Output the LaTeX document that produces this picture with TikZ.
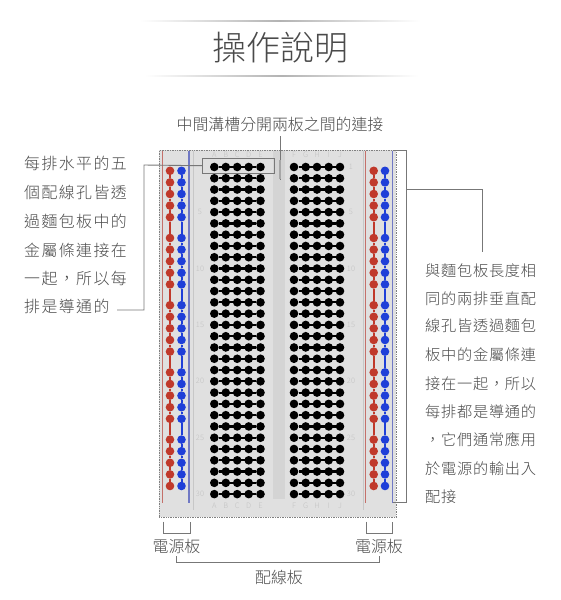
\documentclass[tikz,border=0pt]{standalone}
\usepackage{fontspec}
\setmainfont{Noto Sans CJK TC}[UprightFont=* Light]
\newfontfamily\labelfont{Noto Sans CJK TC}[UprightFont=* Light,LetterSpace=9]
\newfontfamily\sidefont{Noto Sans CJK TC}[UprightFont=* Light,LetterSpace=5]
\usetikzlibrary{calc}
\definecolor{txt}{HTML}{4A4A4A}
\definecolor{lead}{HTML}{777777}
\definecolor{railred}{HTML}{C0392B}
\definecolor{railblue}{HTML}{1F3FD8}
\definecolor{linered}{HTML}{C4706A}
\definecolor{lineblue}{HTML}{7078C4}
\definecolor{board}{HTML}{E0E0E0}
\tikzset{
  leader/.style={draw=lead,line width=0.9pt},
  tlabel/.style={text=txt,inner sep=0pt,font=\fontsize{15.9}{16}\selectfont},
  leftlabel/.style={tlabel,anchor=west,font=\fontsize{15.9}{16}\labelfont},
  rightlabel/.style={tlabel,anchor=west,font=\fontsize{15.2}{16}\sidefont},
  faint/.style={text=black!24,inner sep=0pt,font=\fontsize{7.5}{8}\selectfont},
  hole/.style={circle,fill=black,inner sep=0pt,minimum size=8.6pt},
  redhole/.style={circle,fill=railred,inner sep=0pt,minimum size=8.6pt},
  bluehole/.style={circle,fill=railblue,inner sep=0pt,minimum size=8.6pt},
}
\begin{document}
\begin{tikzpicture}[x=1pt,y=-1pt]
\useasboundingbox (0,0) rectangle (560,600);
\fill[white] (0,0) rectangle (560,600);
% title rules
\shade[left color=white,right color=white,middle color=black!30,shading angle=90] (140,20.6) rectangle (420,21.4);
\shade[left color=white,right color=white,middle color=black!30,shading angle=90] (145,75.6) rectangle (418,76.4);
\node[text=txt,inner sep=0pt,font=\fontsize{34}{36}\selectfont] (title) at (280.5,48) {操作說明};
% board
\node[draw=black!50,densely dotted,fill=board,line width=0.7pt,minimum width=237pt,minimum height=367pt,inner sep=0pt,anchor=north west] (brd) at (159,150) {};
\fill[black!17] (273,151) rectangle (285,499);
\draw[black!22,line width=0.8pt] (193,151) -- (193,510);
\draw[black!22,line width=0.8pt] (363,151) -- (363,510);
% rail stripes
\coordinate (rlt) at (162.5,150.5); \coordinate (rlb) at (162.5,503);
\coordinate (blt) at (189,150.5); \coordinate (blb) at (189,503);
\coordinate (rrt) at (365.7,150.5); \coordinate (rrb) at (365.7,503);
\coordinate (brt) at (392.7,150.5); \coordinate (brb) at (392.7,503);
\draw[linered,line width=1.1pt] (rlt) -- (rlb);
\draw[linered,line width=1.1pt] (rrt) -- (rrb);
\draw[lineblue,line width=1.1pt] (blt) -- (blb);
\draw[lineblue,line width=1.1pt] (brt) -- (brb);
% rails
\foreach \cx/\st/\col/\nm in {170/redhole/railred/a,181.5/bluehole/railblue/b,373.7/redhole/railred/c,385/bluehole/railblue/d}{
  \foreach \g in {0,...,4}{
    \foreach \k in {0,...,4}{
      \pgfmathsetmacro{\yy}{170.8+\g*67.2+\k*11.6}
      \node[\st] (\nm-\g-\k) at (\cx,\yy) {};
    }
    \foreach \k/\j in {0/1,1/2,2/3,3/4}{
      \draw[\col,line width=2pt] (\nm-\g-\k) -- (\nm-\g-\j);
    }
  }
  \foreach \g/\h in {0/1,1/2,2/3,3/4}{
    \draw[\col,line width=2pt] (\nm-\g-4) -- (\nm-\h-0);
  }
}
% main strips
\foreach \r in {1,...,30}{
  \pgfmathsetmacro{\yy}{167+(\r-1)*11.28}
  \foreach \cx/\nm in {214.3/p,225.8/q,237.2/r,248.7/s,260.5/t,294/u,305.7/v,317/w,328.7/x,340/y}{
    \node[hole] (\nm\r) at (\cx,\yy) {};
  }
  \draw[black,line width=2.2pt] (p\r) -- (t\r);
  \draw[black,line width=2.2pt] (u\r) -- (y\r);
}
% faint labels
\foreach \n/\yy in {5/212,10/268.5,15/325,20/381,25/437.5,30/494}{
  \node[faint] (ln\n) at (200,\yy) {\n};
  \node[faint] (rn\n) at (351,\yy) {\n};
}
\node[faint] (rn1) at (351,167) {1};
\foreach \t/\xx in {A/214.3,B/225.8,C/237.2,D/248.7,E/260.5,F/294,G/305.7,H/317,I/328.7,J/340}{
  \node[faint] (top\t) at (\xx,155) {\t};
  \node[faint] (bot\t) at (\xx,506) {\t};
}
% top callout
\node[tlabel] (toplab) at (280,124.5) {中間溝槽分開兩板之間的連接};
\draw[leader] (280,136) -- (280,180);
\fill[black!35] (278.5,160) rectangle (281,179);
% left callout
\node[draw=lead,line width=0.9pt,minimum width=71.4pt,minimum height=15.5pt,inner sep=0pt,anchor=north west] (rowbox) at (202.3,157.5) {};
\foreach \t/\yy in {每排水平的五/163,個配線孔皆透/192,過麵包板中的/221,金屬條連接在/250,一起，所以每/278,排是導通的/306}{
  \node[leftlabel] at (24,\yy) {\t};
}
\coordinate (lc) at (117,310);
\draw[leader] (rowbox.west) -- (144,165) -- (144,310) -- (lc);
% right callout
\coordinate (rbt) at (392.7,150);
\coordinate (rbb) at (392.7,502.5);
\draw[leader] (rbt) -- (406,150) -- (406,502.5) -- (rbb);
\coordinate (rct) at (482,252);
\draw[leader] (406,189) -- (482,189) -- (rct);
\foreach \t/\yy in {與麵包板長度相/271,同的兩排垂直配/299,線孔皆透過麵包/326,板中的金屬條連/355,接在一起，所以/384,每排都是導通的/412,，它們通常應用/440,於電源的輸出入/469,配接/497}{
  \node[rightlabel] at (425,\yy) {\t};
}
% bottom brackets
\node[tlabel] (pl) at (176.5,546) {電源板};
\node[tlabel] (pr) at (379,546) {電源板};
\node[tlabel] (wire) at (279,577) {配線板};
\draw[leader] (163.3,521.5) -- (163.3,533.5) -- (190,533.5) -- (190,521.5);
\draw[leader] (366,521.5) -- (366,533.5) -- (392.7,533.5) -- (392.7,521.5);
\draw[leader] (176.5,556) -- (176.5,562.5) -- (379.5,562.5) -- (379.5,556);
\end{tikzpicture}
\end{document}
